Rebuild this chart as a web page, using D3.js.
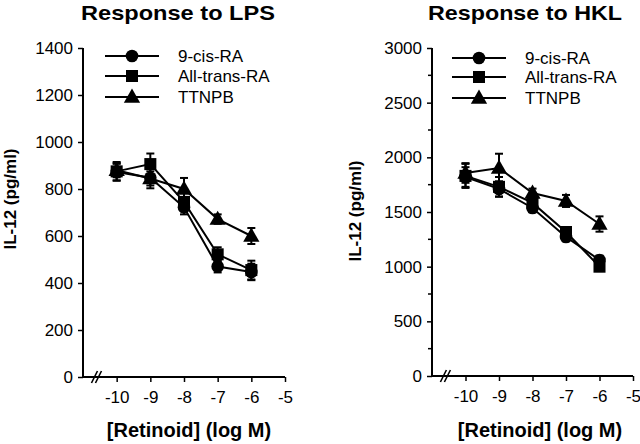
<!DOCTYPE html>
<html><head><meta charset="utf-8">
<script src="https://cdn.jsdelivr.net/npm/d3@7"></script>
<style>body{margin:0;background:#fff}svg{display:block}text{font-family:"Liberation Sans",Arial,Helvetica,sans-serif}</style>
</head><body>
<svg id="c" width="640" height="444"></svg>
<script>
// ---- data ----
const doses = [-10, -9, -8, -7, -6];
const xTicks = [-10, -9, -8, -7, -6, -5];
const seriesNames = ["9-cis-RA", "All-trans-RA", "TTNPB"];
const seriesShapes = ["circle", "square", "triangle"];

const lpsCis = [872, 848, 722, 470, 447];
const lpsCisErr = [35, 45, 30, 25, 35];
const lpsTrans = [875, 906, 745, 522, 455];
const lpsTransErr = [40, 45, 40, 30, 40];
const lpsTtnpb = [880, 845, 800, 672, 600];
const lpsTtnpbErr = [30, 30, 47, 20, 34];
const lpsYTicks = [0, 200, 400, 600, 800, 1000, 1200, 1400];

const hklCis = [1820, 1711, 1537, 1272, 1061];
const hklCisErr = [90, 70, 40, 40, 40];
const hklTrans = [1830, 1730, 1583, 1317, 1000];
const hklTransErr = [110, 90, 50, 40, 40];
const hklTtnpb = [1857, 1903, 1674, 1601, 1390];
const hklTtnpbErr = [90, 130, 40, 55, 70];
const hklYTicks = [0, 500, 1000, 1500, 2000, 2500, 3000];
const hklYMinor = [250, 750, 1250, 1750, 2250, 2750];

const svg = d3.select("#c");

function panel(cfg) {
  const x = d3.scaleLinear().domain([-11, -5]).range([cfg.x0, cfg.x1]);
  const y = d3.scaleLinear().domain([0, cfg.ymax]).range([cfg.y0, cfg.y1]);
  const g = svg.append("g");

  // title
  g.append("text").attr("x", cfg.titleX).attr("y", 20).attr("text-anchor", "middle")
    .attr("font-size", 21).attr("font-weight", "bold")
    .attr("textLength", 194).attr("lengthAdjust", "spacingAndGlyphs").text(cfg.title);

  // y axis
  const ya = g.append("g").attr("transform", `translate(${cfg.x0},0)`)
    .call(d3.axisLeft(y).tickValues(cfg.yTicks).tickSize(5).tickPadding(5).tickFormat(d3.format("d")));
  ya.select(".domain").attr("stroke-width", 2).attr("d", `M0,${cfg.y0}V${cfg.y1}`);
  ya.selectAll(".tick line").attr("stroke-width", 1.5);
  ya.selectAll(".tick text").attr("font-size", 17).attr("font-family", '"Liberation Sans",Arial,sans-serif').attr("fill", "#000");
  if (cfg.minor) {
    g.selectAll(".minor").data(cfg.minor).enter().append("line")
      .attr("x1", cfg.x0 - 4).attr("x2", cfg.x0).attr("y1", d => y(d)).attr("y2", d => y(d))
      .attr("stroke", "#000").attr("stroke-width", 1.5);
  }

  // x axis
  const xa = g.append("g").attr("transform", `translate(0,${cfg.y0})`)
    .call(d3.axisBottom(x).tickValues(xTicks).tickSize(5).tickPadding(9).tickFormat(d3.format("d")));
  xa.select(".domain").attr("stroke-width", 2).attr("d", `M${cfg.x0},0H${cfg.x1}`);
  xa.selectAll(".tick line").attr("stroke-width", 1.5);
  xa.selectAll(".tick text").attr("font-size", 17).attr("font-family", '"Liberation Sans",Arial,sans-serif').attr("fill", "#000")
    .text(d => "-" + Math.abs(d));

  // axis break
  const bx = x(-10.6);
  [-2, 2].forEach(o => {
    g.append("line").attr("x1", bx + o - 3).attr("y1", cfg.y0 + 6).attr("x2", bx + o + 3).attr("y2", cfg.y0 - 6)
      .attr("stroke", "#000").attr("stroke-width", 1.6);
  });

  // labels
  g.append("text").attr("x", cfg.xLabelX).attr("y", 437).attr("text-anchor", "middle")
    .attr("font-size", 20).attr("font-weight", "bold").text("[Retinoid] (log M)");
  g.append("text").attr("transform", `translate(${cfg.yLabelX},${cfg.yLabelY}) rotate(-90)`)
    .attr("text-anchor", "middle").attr("font-size", 17).attr("font-weight", "bold").text("IL-12 (pg/ml)");

  const line = d3.line().x(d => x(d.x)).y(d => y(d.v));
  const sym = {
    circle: d3.symbol(d3.symbolCircle, 125),
    square: d3.symbol(d3.symbolSquare, 145),
    triangle: d3.symbol(d3.symbolTriangle, 115)
  };

  // draw in reverse order so 9-cis is on top
  const order = [2, 1, 0];
  order.forEach(si => {
    const data = doses.map((d, i) => ({ x: d, v: cfg.series[si][i], e: cfg.errs[si][i] }));
    g.append("path").datum(data).attr("d", line).attr("fill", "none").attr("stroke", "#000").attr("stroke-width", 2);
    const eb = g.selectAll(null).data(data).enter().append("g");
    eb.append("line").attr("x1", d => x(d.x)).attr("x2", d => x(d.x))
      .attr("y1", d => y(d.v - d.e)).attr("y2", d => y(d.v + d.e)).attr("stroke", "#000").attr("stroke-width", 2);
    [-1, 1].forEach(s => {
      eb.append("line").attr("x1", d => x(d.x) - 4).attr("x2", d => x(d.x) + 4)
        .attr("y1", d => y(d.v + s * d.e)).attr("y2", d => y(d.v + s * d.e)).attr("stroke", "#000").attr("stroke-width", 2);
    });
    g.selectAll(null).data(data).enter().append("path")
      .attr("d", sym[seriesShapes[si]]())
      .attr("transform", d => `translate(${x(d.x)},${y(d.v) + (seriesShapes[si] === "triangle" ? 1 : 0)})`)
      .attr("fill", "#000");
  });

  // legend
  seriesNames.forEach((name, i) => {
    const ly = cfg.legY[i];
    g.append("line").attr("x1", cfg.legX).attr("x2", cfg.legX + 54).attr("y1", ly).attr("y2", ly)
      .attr("stroke", "#000").attr("stroke-width", 2);
    g.append("path").attr("d", sym[seriesShapes[i]]())
      .attr("transform", `translate(${cfg.legX + 27},${ly + (seriesShapes[i] === "triangle" ? 1 : 0)})`).attr("fill", "#000");
    g.append("text").attr("x", cfg.legX + 73).attr("y", ly + 6).attr("font-size", 17).text(name);
  });
}

panel({
  title: "Response to LPS", titleX: 178, x0: 83, x1: 285, y0: 377, y1: 48, ymax: 1400,
  yTicks: lpsYTicks, minor: null,
  series: [lpsCis, lpsTrans, lpsTtnpb], errs: [lpsCisErr, lpsTransErr, lpsTtnpbErr],
  legX: 105, legY: [56, 76, 97], xLabelX: 189, yLabelX: 16, yLabelY: 199
});
panel({
  title: "Response to HKL", titleX: 525, x0: 432, x1: 633, y0: 376, y1: 48, ymax: 3000,
  yTicks: hklYTicks, minor: hklYMinor,
  series: [hklCis, hklTrans, hklTtnpb], errs: [hklCisErr, hklTransErr, hklTtnpbErr],
  legX: 452, legY: [58, 77, 98], xLabelX: 540, yLabelX: 361, yLabelY: 211
});
</script>
</body></html>
